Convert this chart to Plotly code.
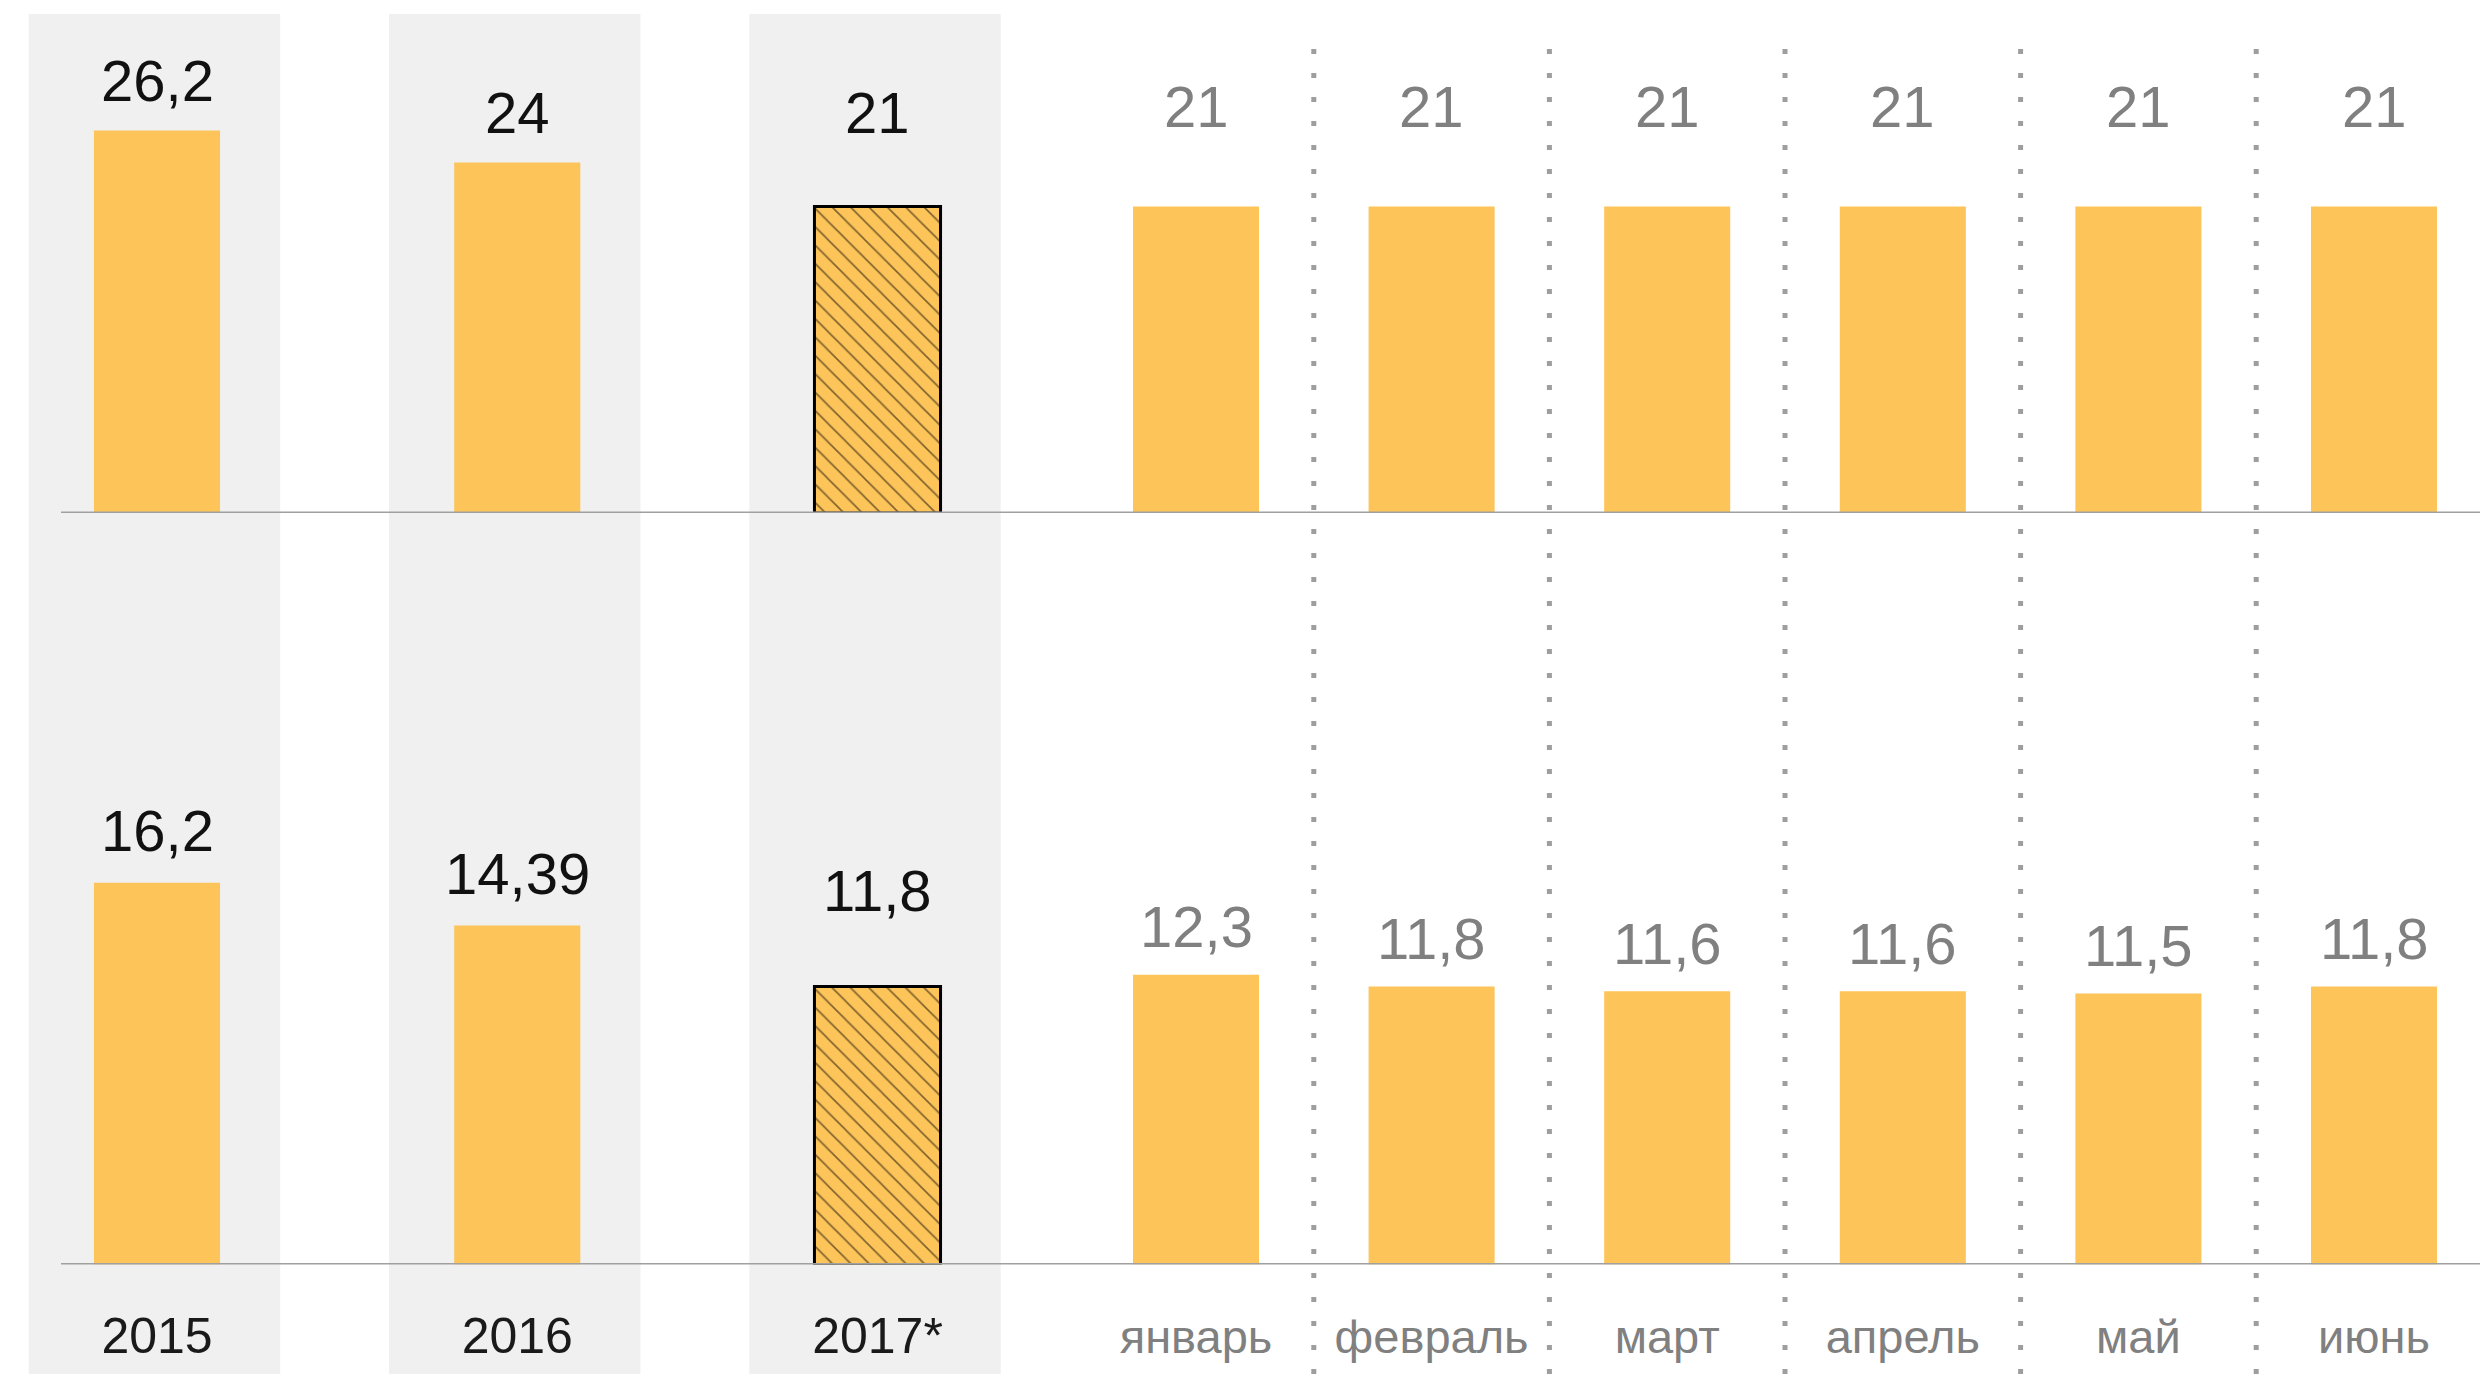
import plotly.graph_objects as go

# ---------------- data ----------------
years = ["2015", "2016", "2017*"]
top_years = [26.2, 24, 21]
bottom_years = [16.2, 14.39, 11.8]
year_is_forecast = [False, False, True]

months = ["январь", "февраль", "март", "апрель", "май", "июнь"]
top_months = [21, 21, 21, 21, 21, 21]
bottom_months = [12.3, 11.8, 11.6, 11.6, 11.5, 11.8]

# ---------------- style ----------------
W, H = 2480, 1374
YELLOW = "#FCC459"
BAND = "#F0F0F0"
GRAY_TXT = "#808080"
DARK_TXT = "#111111"
LINE_GRAY = "#A0A0A0"
DOT_GRAY = "#9E9E9E"
FONT = "Liberation Sans"
VAL_SIZE = 58
YEAR_CAT_SIZE = 50
MONTH_CAT_SIZE = 47


def fx(p):
    return p / W


def fy(p):
    return 1 - p / H


def fmt(v):
    return f"{v:g}".replace(".", ",")


# pixel geometry of panels
YEAR_DOM = [0, fx(1060)]
MONTH_DOM = [fx(1060), 1]
YEAR_RANGE = [-157 / 360.25, (1060 - 157) / 360.25]
MONTH_RANGE = [(1060 - 1196) / 235.6, (2480 - 1196) / 235.6]
TOP_DOM = [fy(513), 1]
BOT_DOM = [fy(1264.5), fy(560)]
TOP_RANGE = [0, 513 / 14.6]
BOT_RANGE = [0, 704.5 / 23.56]

fig = go.Figure()


def year_bars(vals, xa, ya):
    fig.add_trace(go.Bar(
        x=years, y=vals, xaxis=xa, yaxis=ya, width=0.35,
        marker=dict(
            color=YELLOW,
            line=dict(color="#000000", width=[3 if f else 0 for f in year_is_forecast]),
            pattern=dict(shape=["\\" if f else "" for f in year_is_forecast],
                         fgcolor="#000000", fillmode="overlay", size=13, solidity=0.12),
        ),
        hoverinfo="skip", showlegend=False,
    ))


def month_bars(vals, xa, ya):
    fig.add_trace(go.Bar(
        x=months, y=vals, xaxis=xa, yaxis=ya, width=0.535,
        marker=dict(color=YELLOW, line=dict(width=0)),
        hoverinfo="skip", showlegend=False,
    ))


year_bars(top_years, "x", "y")
month_bars(top_months, "x2", "y2")
year_bars(bottom_years, "x3", "y3")
month_bars(bottom_months, "x4", "y4")

annotations = []


def add_labels(vals, xa, ya, color, shift, forecast=None, fshift=None):
    for i, v in enumerate(vals):
        s = shift
        if forecast is not None and forecast[i]:
            s = fshift
        annotations.append(dict(
            x=i, y=v, xref=xa, yref=ya, text=fmt(v), showarrow=False,
            yanchor="middle", yshift=s,
            font=dict(family=FONT, size=VAL_SIZE, color=color),
        ))


add_labels(top_years, "x", "y", DARK_TXT, 50, year_is_forecast, 94)
add_labels(top_months, "x2", "y2", GRAY_TXT, 100)
add_labels(bottom_years, "x3", "y3", DARK_TXT, 52, year_is_forecast, 96)
add_labels(bottom_months, "x4", "y4", GRAY_TXT, 48)

shapes = []
# gray column bands behind years
for i in range(len(years)):
    shapes.append(dict(type="rect", xref="x", yref="paper",
                       x0=i - 0.356, x1=i + 0.342, y0=0, y1=fy(14),
                       fillcolor=BAND, line=dict(width=0), layer="below"))
# dotted separators between months
for i in range(len(months) - 1):
    shapes.append(dict(type="line", xref="x2", yref="paper",
                       x0=i + 0.5, x1=i + 0.5, y0=0, y1=fy(40),
                       line=dict(color=DOT_GRAY, width=5, dash="5px,19px"),
                       layer="below"))
# baselines
for ya in ["y", "y3"]:
    shapes.append(dict(type="line", xref="paper", yref=ya,
                       x0=fx(61), x1=1, y0=0, y1=0,
                       line=dict(color=LINE_GRAY, width=3), layer="above"))

hidden = dict(showgrid=False, zeroline=False, showline=False, ticks="",
              showticklabels=False, fixedrange=True)

fig.update_layout(
    width=W, height=H,
    margin=dict(l=0, r=0, t=0, b=0),
    paper_bgcolor="white", plot_bgcolor="rgba(0,0,0,0)",
    barmode="overlay",
    font=dict(family=FONT),
    xaxis=dict(domain=YEAR_DOM, anchor="y", type="category", range=YEAR_RANGE, **hidden),
    xaxis2=dict(domain=MONTH_DOM, anchor="y2", type="category", range=MONTH_RANGE, **hidden),
    xaxis3=dict(domain=YEAR_DOM, anchor="y3", type="category", range=YEAR_RANGE,
                showgrid=False, zeroline=False, showline=False, ticks="",
                showticklabels=True, ticklabelstandoff=37,
                tickfont=dict(family=FONT, size=YEAR_CAT_SIZE, color="#1A1A1A")),
    xaxis4=dict(domain=MONTH_DOM, anchor="y4", type="category", range=MONTH_RANGE,
                showgrid=False, zeroline=False, showline=False, ticks="",
                showticklabels=True, ticklabelstandoff=40,
                tickfont=dict(family=FONT, size=MONTH_CAT_SIZE, color=GRAY_TXT)),
    yaxis=dict(domain=TOP_DOM, anchor="x", range=TOP_RANGE, **hidden),
    yaxis2=dict(domain=TOP_DOM, anchor="x2", range=TOP_RANGE, **hidden),
    yaxis3=dict(domain=BOT_DOM, anchor="x3", range=BOT_RANGE, **hidden),
    yaxis4=dict(domain=BOT_DOM, anchor="x4", range=BOT_RANGE, **hidden),
    shapes=shapes,
    annotations=annotations,
)

fig.write_html(
    "out.html",
    config={"displayModeBar": False},
    post_script="document.body.style.margin='0px';document.body.style.overflow='hidden';",
)
